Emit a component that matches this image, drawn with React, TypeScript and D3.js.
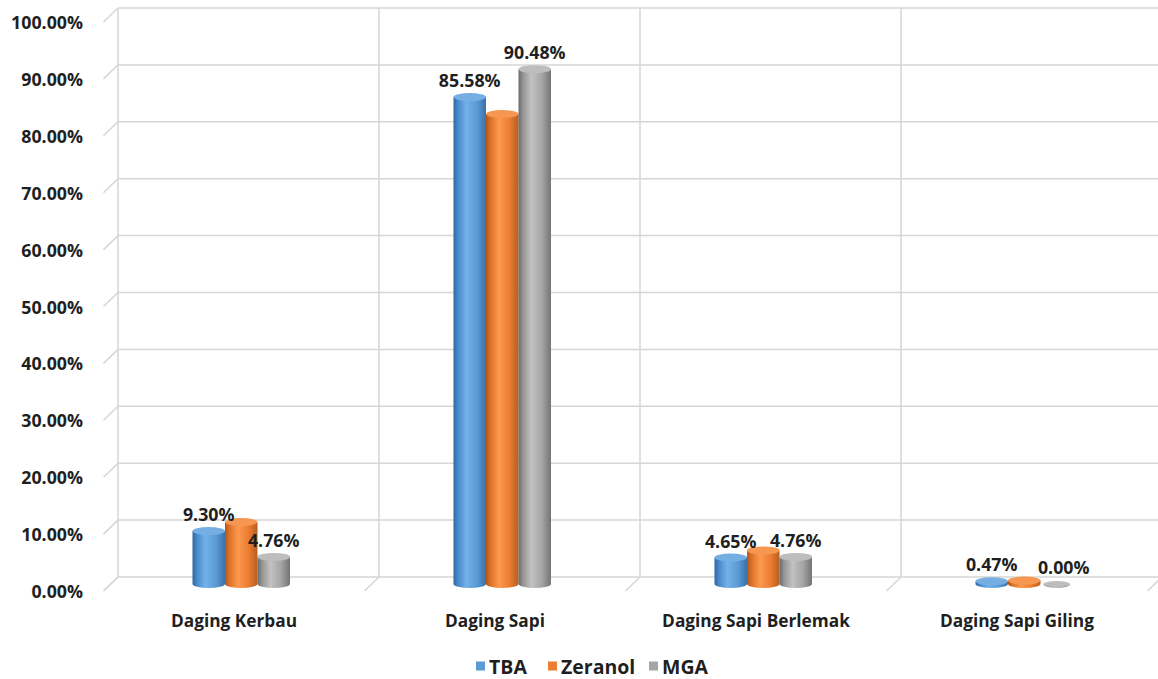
import React from "react";
import * as d3 from "d3";

const categories = ["Daging Kerbau", "Daging Sapi", "Daging Sapi Berlemak", "Daging Sapi Giling"];
const seriesNames = ["TBA", "Zeranol", "MGA"];
const tbaValues = [9.3, 85.58, 4.65, 0.47];
const zeranolValues = [10.9, 82.6, 5.9, 0.6];
const mgaValues = [4.76, 90.48, 4.76, 0.0];
const showLabels = [true, false, true];
const yTicks = [0, 10, 20, 30, 40, 50, 60, 70, 80, 90, 100];

const W = 1158;
const H = 679;
const backLeft = 118;
const catW = 261;
const depthX = -14.5;
const depthY = 14;
const barW = 32.5;
const ry = 4;

const palettes = [
  { stops: ["#2c67a3", "#4a8acb", "#72b1e8", "#5b9bd5", "#3a71a9"], top: "#74aee2" },
  { stops: ["#b0561a", "#dd7129", "#fb9a4e", "#ec7d31", "#b65e1f"], top: "#f59651" },
  { stops: ["#6a6a6a", "#959595", "#c2c2c2", "#a5a5a5", "#747474"], top: "#bdbdbd" },
];

export default function App() {
  const series = [tbaValues, zeranolValues, mgaValues];
  const yBack = d3.scaleLinear().domain([0, 100]).range([577, 8]);
  const yBar = (v: number) => yBack(v) + depthY / 2;
  const xBack = d3.scaleBand<string>().domain(categories).range([backLeft, backLeft + catW * categories.length]).padding(0);
  const midCenter = (c: string) => (xBack(c) as number) + catW / 2 + depthX / 2;
  const frontCenter = (c: string) => (xBack(c) as number) + catW / 2 + depthX;
  const xInner = d3.scaleBand<number>().domain([0, 1, 2]).range([-barW * 1.5, barW * 1.5]).padding(0);
  const fmt = (v: number) => v.toFixed(2) + "%";
  const font = "'Open Sans', 'DejaVu Sans', sans-serif";
  const textColor = "#1f1f1f";
  const grid = "#d6d6d6";

  const verticals = d3.range(categories.length + 1).map((i) => backLeft + i * catW);

  return (
    <svg width={W} height={H} style={{ position: "absolute", left: 0, top: 0, background: "#fff" }} fontFamily={font}>
      <defs>
        {palettes.map((p, i) => (
          <linearGradient key={i} id={`g${i}`} x1="0" x2="1" y1="0" y2="0">
            <stop offset="0%" stopColor={p.stops[0]} />
            <stop offset="14%" stopColor={p.stops[1]} />
            <stop offset="40%" stopColor={p.stops[2]} />
            <stop offset="72%" stopColor={p.stops[3]} />
            <stop offset="100%" stopColor={p.stops[4]} />
          </linearGradient>
        ))}
      </defs>
      <rect x={0} y={0} width={W} height={H} fill="#fff" />
      {yTicks.map((t) => (
        <g key={t}>
          <line x1={backLeft} x2={W + 10} y1={yBack(t)} y2={yBack(t)} stroke={grid} strokeWidth={1.5} />
          <line x1={backLeft} y1={yBack(t)} x2={backLeft + depthX} y2={yBack(t) + depthY} stroke={grid} strokeWidth={1.5} />
          <text x={83} y={yBack(t) + depthY} textAnchor="end" dominantBaseline="central" fontSize={17.8} fontWeight={700} fill={textColor}>
            {fmt(t)}
          </text>
        </g>
      ))}
      {verticals.map((x, i) => (
        <g key={i}>
          <line x1={x} x2={x} y1={yBack(100)} y2={yBack(0)} stroke={grid} strokeWidth={1.5} />
          <line x1={x} y1={yBack(0)} x2={x + depthX} y2={yBack(0) + depthY} stroke={grid} strokeWidth={1.5} />
        </g>
      ))}
      {categories.map((c, ci) => (
        <g key={c}>
          {series.map((vals, si) => {
            const v = vals[ci];
            const x0 = midCenter(c) + (xInner(si) as number);
            const cx = x0 + barW / 2;
            const rx = v === 0 ? barW / 2 - 3 : barW / 2;
            const yb = yBar(0);
            const yt = yBar(v);
            const body = `M${cx - rx},${yt} L${cx - rx},${yb} A${rx},${ry} 0 0 0 ${cx + rx},${yb} L${cx + rx},${yt} Z`;
            return (
              <g key={si}>
                <path d={body} fill={`url(#g${si})`} />
                <ellipse cx={cx} cy={yt} rx={rx} ry={v === 0 ? ry - 1 : ry} fill={palettes[si].top} />
              </g>
            );
          })}
        </g>
      ))}
      {categories.map((c, ci) => (
        <g key={c}>
          {series.map((vals, si) => {
            if (!showLabels[si]) return null;
            const v = vals[ci];
            const cx = midCenter(c) + (xInner(si) as number) + barW / 2;
            const dx = ci === 3 && si === 2 ? 7 : 0;
            return (
              <text key={si} x={cx + dx} y={yBar(v) - 17} textAnchor="middle" dominantBaseline="central" fontSize={17.8} fontWeight={700} fill={textColor}>
                {fmt(v)}
              </text>
            );
          })}
        </g>
      ))}
      {categories.map((c) => (
        <text key={c} x={frontCenter(c)} y={620} textAnchor="middle" dominantBaseline="central" fontSize={17.3} fontWeight={700} fill={textColor}>
          {c}
        </text>
      ))}
      {(() => {
        const pos = [476, 548, 649];
        return seriesNames.map((s, i) => (
          <g key={s}>
            <rect x={pos[i]} y={661.5} width={9} height={9} fill={palettes[i].stops[3]} />
            <text x={pos[i] + 13} y={666} dominantBaseline="central" fontSize={19.5} fontWeight={700} fill={textColor}>
              {s}
            </text>
          </g>
        ));
      })()}
    </svg>
  );
}
